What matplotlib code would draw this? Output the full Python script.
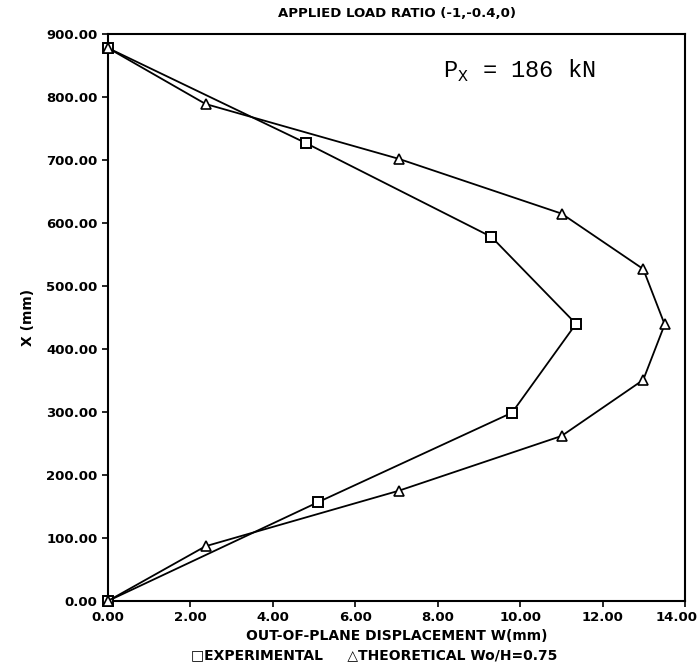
import matplotlib
matplotlib.use("Agg")
import matplotlib.pyplot as plt
from matplotlib.ticker import FormatStrFormatter
from matplotlib.transforms import ScaledTranslation

# out-of-plane displacement W (mm) vs position X (mm)
exp_w = [0.0, 5.1, 9.8, 11.35, 9.3, 4.8, 0.0]
exp_x = [0, 157, 299, 440, 578, 727, 878]

theo_w = [0.0, 2.37, 7.05, 11.0, 12.98, 13.5, 12.98, 11.0, 7.05, 2.37, 0.0]
theo_x = [0, 87, 175, 262, 351, 439, 527, 615, 702, 789, 878]

x_ticks = [0, 2, 4, 6, 8, 10, 12, 14]
y_ticks = [0, 100, 200, 300, 400, 500, 600, 700, 800, 900]

plt.rcParams['font.family'] = ['DejaVu Sans']

fig = plt.figure(figsize=(7.0, 6.69), dpi=100)
ax = fig.add_axes([0.154, 0.1016, 0.825, 0.8475])

ax.plot(exp_w, exp_x, color='black', lw=1.3, marker='s', ms=7,
        mfc='white', mec='black', mew=1.4, clip_on=False, zorder=3)
ax.plot(theo_w, theo_x, color='black', lw=1.3, marker='^', ms=7.5,
        mfc='white', mec='black', mew=1.2, clip_on=False, zorder=3)

ax.set_xlim(0, 14)
ax.set_ylim(0, 900)
ax.set_xticks(x_ticks)
ax.set_yticks(y_ticks)
ax.xaxis.set_major_formatter(FormatStrFormatter('%.2f'))
ax.yaxis.set_major_formatter(FormatStrFormatter('%.2f'))
ax.tick_params(direction='out', length=4, width=1.2, labelsize=9.5)
for lab in ax.get_xticklabels() + ax.get_yticklabels():
    lab.set_fontweight('bold')
# last x label sits against the right edge, nudge it in a bit
last = ax.get_xticklabels()[-1]
last.set_transform(last.get_transform() + ScaledTranslation(-6 / 72, 0, fig.dpi_scale_trans))
for s in ax.spines.values():
    s.set_linewidth(1.5)

ax.set_ylabel('X (mm)', fontsize=10, fontweight='bold', labelpad=8)
ax.set_xlabel('OUT-OF-PLANE DISPLACEMENT W(mm)', fontsize=10,
              fontweight='bold', labelpad=3)
ax.set_title('APPLIED LOAD RATIO (-1,-0.4,0)', fontsize=9.5,
             fontweight='bold', pad=12)

ax.text(0.58, 0.935, r'P$_\mathregular{X}$ = 186 kN', transform=ax.transAxes,
        fontsize=17, family='Liberation Mono', va='center', ha='left')

fig.text(0.535, 0.021, '\u25a1EXPERIMENTAL     \u25b3THEORETICAL Wo/H=0.75',
         fontsize=10, fontweight='bold', ha='center', va='center')

fig.savefig('out.png', dpi=100)
